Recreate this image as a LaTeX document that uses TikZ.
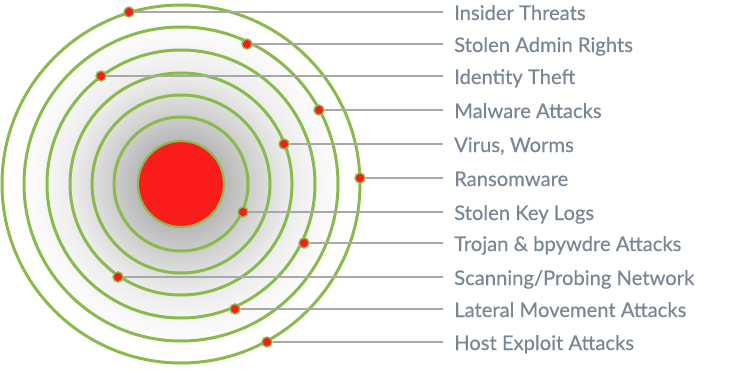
\documentclass[tikz,border=0pt]{standalone}
\usepackage{fontspec}
\setmainfont{Lato}[FakeBold=0.35]
\usepackage{tikz}
\usetikzlibrary{
    positioning,
    calc
}
\definecolor{ringgreen}{RGB}{139,186,76}
\definecolor{corered}{RGB}{250,27,27}
\definecolor{leadgray}{RGB}{168,168,168}
\definecolor{labelgray}{RGB}{122,134,148}
\pgfdeclareradialshading{halo}{\pgfpointorigin}{color(0bp)=(black!30); color(6bp)=(black!28); color(11bp)=(black!16); color(15bp)=(black!8); color(19.5bp)=(black!3); color(23bp)=(white); color(50bp)=(white)}

\begin{document}
\begin{tikzpicture}[x=1pt,y=-1pt,
    ring/.style={draw=ringgreen,line width=3pt},
    hit/.style={circle,fill=corered,draw=ringgreen,line width=1.4pt,minimum size=10pt,inner sep=0pt},
    lead/.style={draw=leadgray,line width=1.8pt},
    threat/.style={anchor=west,inner xsep=11pt,inner ysep=0pt,text height=16pt,text depth=0pt,
        text=labelgray,font=\fontsize{20.2}{24}\selectfont}]
    \useasboundingbox (0,0) rectangle (751,369);
    % glow and rings
    \coordinate (core) at (181,184);
    \shade[shading=halo] (core) circle (179pt);
    \foreach \r in {179,157,134,111,89,67}
        \draw[ring] (core) circle (\r pt);
    \draw[ring,fill=corered,line width=2.2pt] (core) circle (43pt);
    % threats on the rings
    \foreach \x/\y/\t [count=\i] in {
        129/12/{Insider Threats},
        247/44/{Stolen Admin Rights},
        101/76/{Identity Theft},
        319/110/{Malware Attacks},
        284/144/{Virus, Worms},
        360/178/{Ransomware},
        243/212/{Stolen Key Logs},
        304/243/{Trojan \& bpywdre Attacks},
        118/277/{Scanning/Probing Network},
        235/309/{Lateral Movement Attacks},
        267/342/{Host Exploit Attacks}} {
        \node[hit] (hit\i) at (\x,\y) {};
        \node[threat] (threat\i) at (443,\y) {\t};
        \draw[lead] (hit\i) -- (threat\i.west);
    }
\end{tikzpicture}
\end{document}
